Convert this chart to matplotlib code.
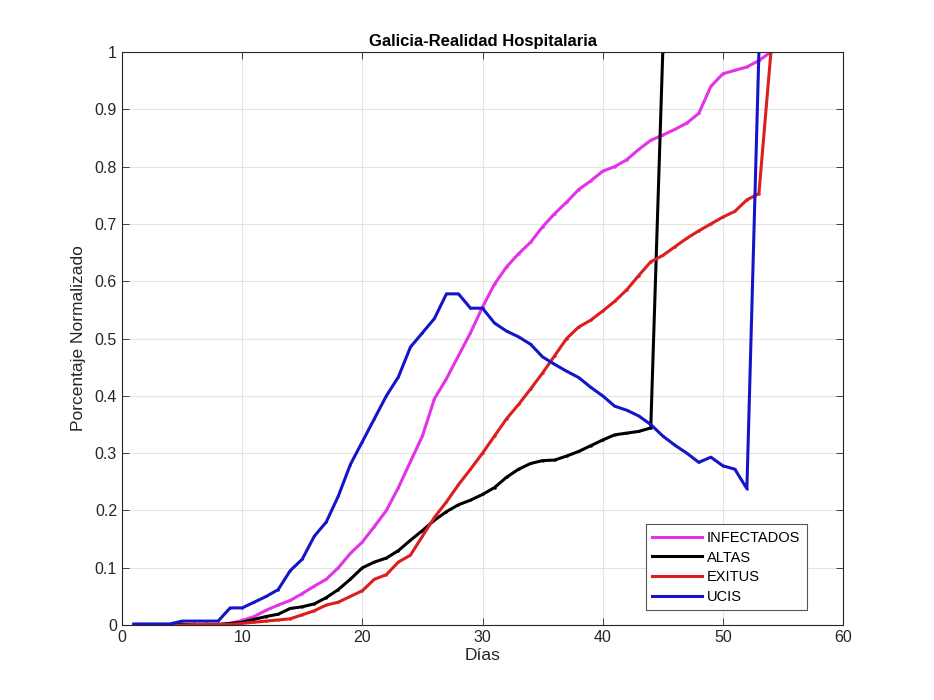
import matplotlib
matplotlib.use("Agg")
import matplotlib.pyplot as plt
import numpy as np

plt.rcParams['font.family'] = ['Liberation Sans', 'DejaVu Sans']

# normalized series, one value per day
dias_inf = list(range(1, 55))
infectados = [0.001, 0.001, 0.001, 0.001, 0.001, 0.001, 0.001, 0.001, 0.003, 0.008,
              0.015, 0.026, 0.035, 0.043, 0.055, 0.068, 0.080, 0.100, 0.125, 0.145,
              0.172, 0.200, 0.240, 0.285, 0.330, 0.395, 0.430, 0.470, 0.510, 0.555,
              0.595, 0.625, 0.648, 0.668, 0.695, 0.718, 0.738, 0.760, 0.775, 0.792,
              0.800, 0.812, 0.830, 0.846, 0.855, 0.865, 0.876, 0.893, 0.940, 0.962,
              0.968, 0.974, 0.985, 1.000]

dias_alt = list(range(1, 46))
altas = [0.001, 0.001, 0.001, 0.001, 0.001, 0.001, 0.001, 0.001, 0.003, 0.005,
         0.010, 0.015, 0.019, 0.029, 0.032, 0.037, 0.048, 0.062, 0.080, 0.100,
         0.110, 0.117, 0.130, 0.148, 0.165, 0.183, 0.198, 0.210, 0.218, 0.228,
         0.240, 0.258, 0.272, 0.282, 0.287, 0.288, 0.295, 0.303, 0.313, 0.323,
         0.332, 0.335, 0.338, 0.344, 1.000]

dias_exi = list(range(1, 55))
exitus = [0.000, 0.000, 0.000, 0.000, 0.000, 0.001, 0.001, 0.001, 0.001, 0.003,
          0.005, 0.007, 0.009, 0.011, 0.018, 0.025, 0.035, 0.040, 0.050, 0.060,
          0.080, 0.088, 0.110, 0.122, 0.155, 0.188, 0.215, 0.245, 0.272, 0.300,
          0.330, 0.360, 0.385, 0.412, 0.440, 0.470, 0.500, 0.520, 0.532, 0.548,
          0.565, 0.585, 0.610, 0.634, 0.645, 0.660, 0.675, 0.688, 0.700, 0.712,
          0.722, 0.742, 0.753, 1.000]

dias_uci = list(range(1, 54))
ucis = [0.002, 0.002, 0.002, 0.002, 0.007, 0.007, 0.007, 0.007, 0.030, 0.030,
        0.040, 0.050, 0.062, 0.095, 0.115, 0.155, 0.180, 0.225, 0.280, 0.320,
        0.360, 0.400, 0.433, 0.485, 0.510, 0.535, 0.578, 0.578, 0.553, 0.553,
        0.527, 0.513, 0.503, 0.490, 0.468, 0.455, 0.443, 0.432, 0.415, 0.400,
        0.382, 0.375, 0.365, 0.350, 0.330, 0.314, 0.300, 0.284, 0.293, 0.278,
        0.272, 0.238, 1.000]

fig = plt.figure(figsize=(9.34, 7.0), dpi=100)
ax = fig.add_axes([0.1306, 0.107, 0.772, 0.8187])

kw = dict(lw=2.2, marker='.', markersize=1.5)
ax.plot(dias_inf, infectados, color='#e432e6', label='INFECTADOS', **kw)
ax.plot(dias_alt, altas, color='black', label='ALTAS', **kw)
ax.plot(dias_exi, exitus, color='#dc1e1e', label='EXITUS', **kw)
ax.plot(dias_uci, ucis, color='#1414c8', label='UCIS', **kw)

ax.set_xlim(0, 60)
ax.set_ylim(0, 1)
ax.set_xticks(np.arange(0, 61, 10))
ax.set_yticks(np.arange(0, 1.01, 0.1))
ax.set_yticklabels(['0', '0.1', '0.2', '0.3', '0.4', '0.5', '0.6', '0.7', '0.8', '0.9', '1'])
ax.grid(True, color='#e3e3e3', lw=0.8)
ax.set_axisbelow(True)
ax.tick_params(direction='in', top=True, right=True, labelsize=11.5,
               colors='#262626', length=5, width=0.6)
for s in ax.spines.values():
    s.set_color('#262626')
    s.set_linewidth(0.8)

ax.set_title('Galicia-Realidad Hospitalaria', fontsize=12, fontweight='bold', pad=4)
ax.set_xlabel('Días', fontsize=12.5, color='#262626', labelpad=2)
ax.set_ylabel('Porcentaje Normalizado', fontsize=12.5, color='#262626', labelpad=6)

leg = ax.legend(loc='lower right', bbox_to_anchor=(0.950, 0.026), borderaxespad=0,
                fontsize=10.5, fancybox=False, framealpha=1, edgecolor='#555555',
                handlelength=3.4, borderpad=0.45, labelspacing=0.38,
                handletextpad=0.35)
leg.get_frame().set_linewidth(0.8)

fig.savefig('out.png', dpi=100)
